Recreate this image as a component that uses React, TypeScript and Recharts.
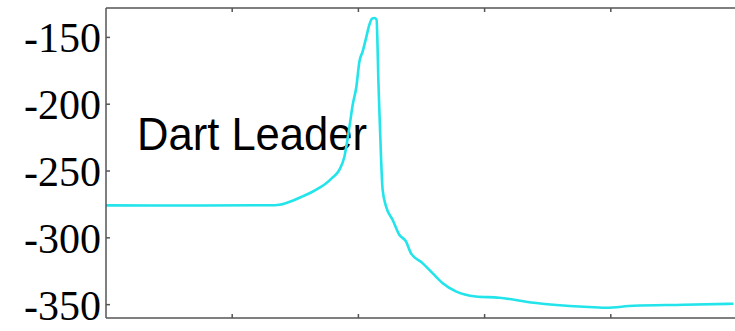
import { LineChart, Line, XAxis, YAxis } from 'recharts';

// sample positions along the time axis (axis spans 0..5)
const time = [
  0, 0.743, 1.296, 1.375, 1.478, 1.557, 1.636, 1.692, 1.747, 1.794, 1.85, 1.889,
  1.929, 1.955, 1.984, 2.008, 2.034, 2.061, 2.087, 2.108, 2.126, 2.144, 2.15,
  2.158, 2.166, 2.18, 2.192, 2.219, 2.271, 2.324, 2.377, 2.416, 2.508, 2.587,
  2.666, 2.772, 2.93, 3.115, 3.391, 3.787, 3.961, 4.182, 4.577, 4.972,
];

const field = [
  -275.7, -275.8, -275.6, -275.2, -272.2, -269, -265.5, -262.5, -259, -255, -249,
  -239.3, -216.8, -200.4, -186.9, -168, -160.5, -150.4, -140.5, -136, -135.5,
  -136.8, -150.2, -181.7, -204.1, -241.5, -264, -276.5, -286.5, -297.7, -302.7,
  -311.4, -318.9, -326.4, -333.8, -340.1, -343.9, -344.8, -348.6, -351.6, -352.3,
  -350.8, -350.1, -349.3,
];

const xTicks = [1, 2, 3, 4];
const yTicks = [-350, -300, -250, -200, -150];
const title = 'Dart Leader';

const rows = time.map((t, i) => ({ t, v: field[i] }));

const frame = { stroke: '#555', strokeWidth: 1.5 };
const yDomain: [number, number] = [-360, -128];

// tick marks only, no label text
const NoLabel = () => <g />;

export default function App() {
  return (
    <div style={{ position: 'fixed', left: 0, top: 0, width: 735, height: 331, overflow: 'hidden', background: '#fff' }}>
      <LineChart width={748} height={331} data={rows} margin={{ top: 8, right: 10, bottom: 13, left: 0 }}>
        {/* box edges with inward tick marks */}
        <XAxis xAxisId="bottom" dataKey="t" type="number" domain={[0, 5]} ticks={xTicks} orientation="bottom"
          height={1} mirror tick={NoLabel} tickSize={4} axisLine={frame} tickLine={frame} />
        <XAxis xAxisId="top" dataKey="t" type="number" domain={[0, 5]} ticks={xTicks} orientation="top"
          height={1} mirror tick={NoLabel} tickSize={4} axisLine={frame} tickLine={frame} />
        <YAxis yAxisId="left" type="number" domain={yDomain} ticks={yTicks} width={106}
          axisLine={frame} tickLine={frame} tickSize={-4} tickMargin={9}
          tick={{ fill: '#000', fontSize: 42, fontFamily: '"Liberation Serif", "Times New Roman", serif' }} />
        <YAxis yAxisId="right" type="number" domain={yDomain} ticks={yTicks} orientation="right" width={1}
          tick={NoLabel} tickSize={-4} axisLine={frame} tickLine={frame} />
        <Line xAxisId="bottom" yAxisId="left" dataKey="v" type="monotone" stroke="#22e4ea" strokeWidth={2.6}
          dot={false} isAnimationActive={false} />
        <text x={137} y={150} fontSize={46} fontFamily='"Liberation Sans", Arial, sans-serif' fill="#000"
          textLength={230} lengthAdjust="spacingAndGlyphs">
          {title}
        </text>
      </LineChart>
    </div>
  );
}
